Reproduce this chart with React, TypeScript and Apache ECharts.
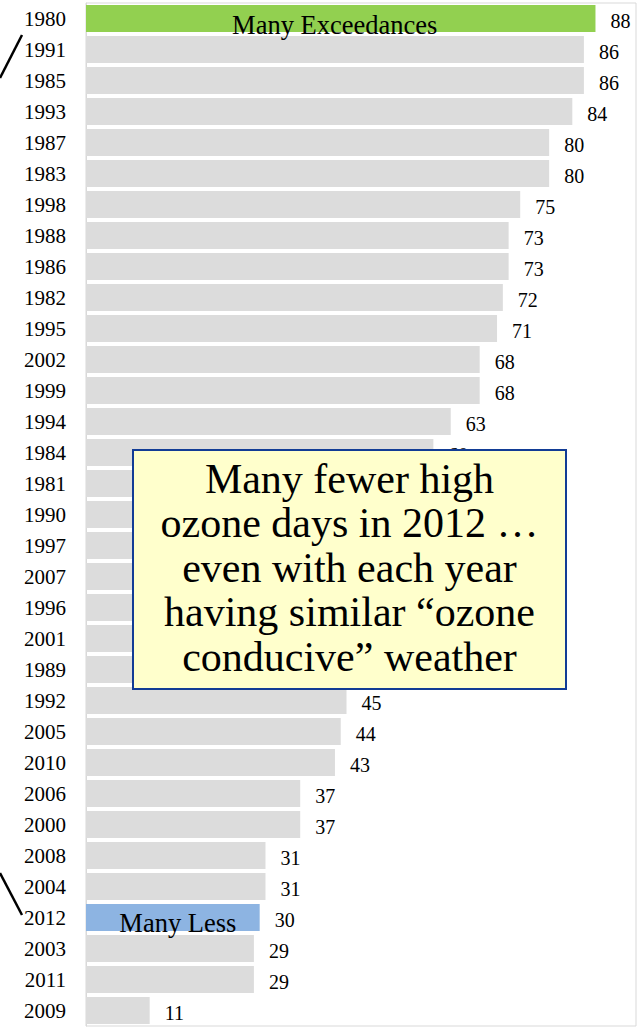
import React, { useEffect, useRef } from "react";
import * as echarts from "echarts";

const years = [
  "1980", "1991", "1985", "1993", "1987", "1983", "1998", "1988", "1986", "1982", "1995",
  "2002", "1999", "1994", "1984", "1981", "1990", "1997", "2007", "1996", "2001", "1989",
  "1992", "2005", "2010", "2006", "2000", "2008", "2004", "2012", "2003", "2011", "2009",
];
const exceedanceDays = [
  88, 86, 86, 84, 80, 80, 75, 73, 73, 72, 71,
  68, 68, 63, 60, 58, 57, 55, 53, 51, 49, 47,
  45, 44, 43, 37, 37, 31, 31, 30, 29, 29, 11,
];
const highlightYears = ["1980", "2012"];
const highlightColors = ["#92D050", "#8DB4E2"];
const highlightTexts = ["Many Exceedances", "Many Less"];
const calloutLines = [
  "Many fewer high",
  "ozone days in 2012 \u2026",
  "even with each year",
  "having similar \u201cozone",
  "conducive\u201d weather",
];

const SERIF = "Liberation Serif";
const highlightLabelShift = [[-6, 6], [5, 5]];

export default function App() {
  const ref = useRef<HTMLDivElement>(null);
  useEffect(() => {
    if (!ref.current) return;
    const chart = echarts.init(ref.current, undefined, { renderer: "svg" });
    const mainData = exceedanceDays.map((v, i) => {
      const h = highlightYears.indexOf(years[i]);
      return h >= 0
        ? { value: v, itemStyle: { color: highlightColors[h], borderColor: highlightColors[h], borderWidth: h === 0 ? 3 : 0 } }
        : { value: v };
    });
    const overlayData = exceedanceDays.map((v, i) => {
      const h = highlightYears.indexOf(years[i]);
      return h >= 0
        ? { value: v, label: { formatter: highlightTexts[h], fontSize: 26.5, offset: highlightLabelShift[h] } }
        : null;
    });
    chart.setOption({
      animation: false,
      textStyle: { fontFamily: SERIF },
      grid: {
        left: 86,
        right: 3,
        top: 3,
        bottom: 3,
        show: true,
        borderColor: "#D9D9D9",
        borderWidth: 1,
        backgroundColor: "transparent",
      },
      xAxis: {
        type: "value",
        min: 0,
        max: 95,
        show: false,
        splitLine: { show: false },
      },
      yAxis: {
        type: "category",
        data: years,
        inverse: true,
        axisTick: { show: false },
        axisLine: { show: true, lineStyle: { color: "#D9D9D9", width: 1 } },
        axisLabel: {
          color: "#000",
          fontFamily: SERIF,
          fontSize: 21,
          margin: 20,
          offset: [0, 1],
        },
      },
      series: [
        {
          type: "bar",
          data: mainData,
          barCategoryGap: "13%",
          itemStyle: { color: "#DCDCDC" },
          label: {
            show: true,
            position: "right",
            distance: 15,
            color: "#000",
            fontFamily: SERIF,
            fontSize: 20,
            offset: [0, 2],
          },
        },
        {
          type: "bar",
          data: overlayData,
          barGap: "-100%",
          barCategoryGap: "13%",
          silent: true,
          itemStyle: { color: "transparent" },
          label: {
            show: true,
            position: "inside",
            color: "#000",
            fontFamily: SERIF,
          },
          z: 3,
        },
      ],
      graphic: [
        {
          type: "line",
          z: 100,
          shape: { x1: 0, y1: 78, x2: 22, y2: 35 },
          style: { stroke: "#000", lineWidth: 2.5 },
        },
        {
          type: "line",
          z: 100,
          shape: { x1: 0, y1: 873, x2: 22, y2: 915 },
          style: { stroke: "#000", lineWidth: 2.5 },
        },
        {
          type: "rect",
          z: 100,
          shape: { x: 133, y: 450, width: 433, height: 239 },
          style: { fill: "#FFFFCC", stroke: "#123C95", lineWidth: 2 },
        },
        {
          type: "text",
          z: 101,
          x: 349.5,
          y: 567.5,
          style: {
            text: calloutLines.join("\n"),
            fill: "#000",
            fontFamily: SERIF,
            fontSize: 42,
            align: "center",
            verticalAlign: "middle",
            textAlign: "center",
            textVerticalAlign: "middle",
            lineHeight: 44.5,
          },
        },
      ],
    });
    return () => chart.dispose();
  }, []);
  return (
    <div
      ref={ref}
      style={{ position: "absolute", left: 0, top: 0, width: 639, height: 1029, background: "#fff" }}
    />
  );
}
